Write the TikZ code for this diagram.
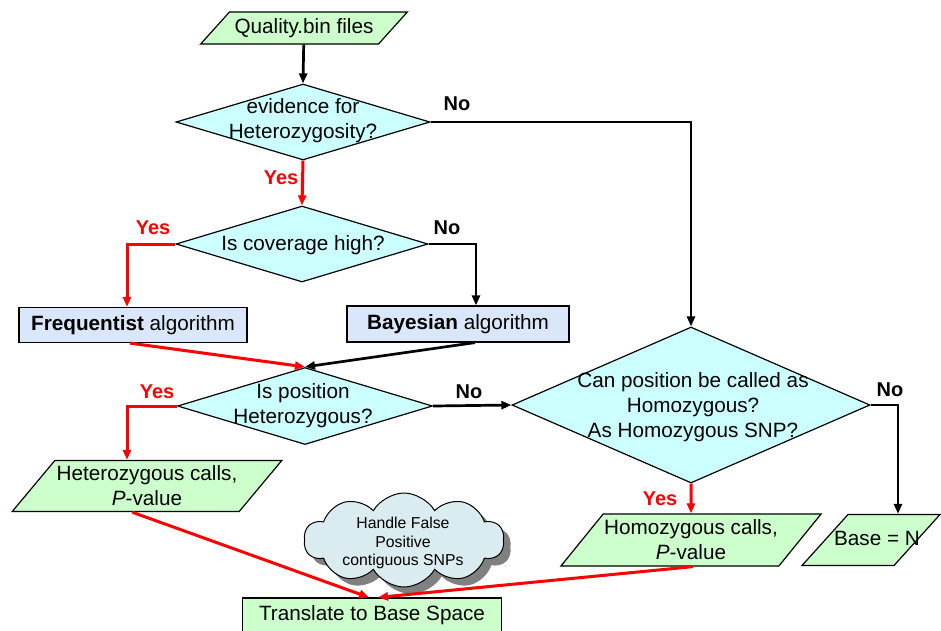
\documentclass[tikz,border=0pt]{standalone}
\usepackage{fontspec}
\setmainfont{Liberation Sans}
\usetikzlibrary{shapes.geometric,shapes.symbols,shadows,arrows.meta}
\definecolor{iogreen}{HTML}{CCFFCC}
\definecolor{decicyan}{HTML}{CCFFFF}
\definecolor{algblue}{HTML}{DAE7FB}
\definecolor{cloudblue}{HTML}{DAECEF}
\tikzset{
  every node/.style={font=\fontsize{20.7}{25}\selectfont},
  io/.style={trapezium, trapezium left angle=45, trapezium right angle=135,
    trapezium stretches, draw, fill=iogreen, line width=1.2pt, inner sep=1pt,
    align=center},
  decision/.style={diamond, draw, fill=decicyan, line width=1.2pt, inner sep=1pt},
  algbox/.style={rectangle, draw, fill=algblue, line width=1.2pt, inner sep=1pt},
  txt/.style={align=center, inner sep=0pt},
  yeslbl/.style={text=red, font=\fontsize{20}{24}\selectfont\bfseries},
  nolbl/.style={font=\fontsize{20}{24}\selectfont\bfseries},
  blk/.style={line width=2.7pt, -{Triangle[length=10pt,width=8pt]}},
  rd/.style={line width=3pt, red, -{Triangle[length=10pt,width=8pt]}}
}
\begin{document}
\begin{tikzpicture}[x=1pt,y=-1pt]
  \useasboundingbox (0,0) rectangle (941,630);
  \node[io, trapezium left angle=38, trapezium right angle=142,
    minimum width=207pt, minimum height=32pt] (quality) at (304,28) {Quality.bin files};
  \node[decision, minimum width=254pt, minimum height=76pt] (evid) at (303,122) {};
  \node[txt] (evidtxt) at (303,121) {evidence for\\Heterozygosity?};
  \node[decision, minimum width=252pt, minimum height=76pt] (cover) at (302,244) {};
  \node[txt] (covertxt) at (303,245) {Is coverage high?};
  \node[algbox, minimum width=228pt, minimum height=35pt] (freq) at (133,325)
    {\textbf{Frequentist} algorithm};
  \node[algbox, minimum width=222pt, minimum height=36pt] (bayes) at (458,324)
    {\textbf{Bayesian} algorithm};
  \node[decision, minimum width=255pt, minimum height=77pt] (ispos) at (305,406) {};
  \node[txt] (isposrtxt) at (303,406) {Is position\\Heterozygous?};
  \node[decision, minimum width=358pt, minimum height=156pt] (canpos) at (691,405) {};
  \node[txt] (canpostxt) at (693,407) {Can position be called as\\Homozygous?\\As Homozygous SNP?};
  \node[io, minimum width=270pt, minimum height=51pt] (hetcalls) at (147,486)
    {Heterozygous calls,\\\textit{P}-value};
  \node[io, minimum width=255pt, minimum height=52pt] (homcalls) at (691,540)
    {Homozygous calls,\\\textit{P}-value};
  \node[io, minimum width=138pt, minimum height=51pt] (basen) at (871,540) {};
  \node[txt] (basentxt) at (877,538) {Base = N};
  \node[cloud, cloud puffs=10, cloud puff arc=120, aspect=2.1, draw, inner sep=1pt,
    fill=cloudblue, line width=1pt, minimum width=200pt, minimum height=94pt,
    drop shadow={shadow xshift=7pt, shadow yshift=-7pt, fill=black!50, opacity=1}]
    (fpsnp) at (404,540) {};
  \node[txt, font=\fontsize{15.8}{18.5}\selectfont] (fpsnptxt) at (403,543)
    {Handle False\\Positive\\contiguous SNPs};
  \node[rectangle, draw, fill=iogreen, line width=1.2pt, minimum width=259pt,
    minimum height=34pt] (translate) at (372,615) {Translate to Base Space};

  \node[nolbl] (no1) at (457,104) {No};
  \node[yeslbl] (yes1) at (281,178) {Yes};
  \node[yeslbl] (yes2) at (153,228) {Yes};
  \node[nolbl] (no2) at (447,228) {No};
  \node[yeslbl] (yes3) at (157,392) {Yes};
  \node[nolbl] (no3) at (469,392) {No};
  \node[nolbl] (no4) at (890,390) {No};
  \node[yeslbl] (yes4) at (660,499) {Yes};

  \draw[blk] (quality) -- (evid.north);
  \draw[blk] (evid.east) -| (canpos.north);
  \draw[rd] (evid.south) -- (cover.north);
  \draw[rd] (cover.west) -| ([xshift=-6pt]freq.north);
  \draw[blk] (cover.east) -| ([xshift=18pt]bayes.north);
  \draw[rd] ([xshift=-3pt]freq.south) -- (ispos.north);
  \draw[blk] ([xshift=17pt]bayes.south) -- (ispos.north);
  \draw[rd] (ispos.west) -| ([xshift=-20pt]hetcalls.north);
  \draw[blk] (ispos.east) -- (canpos.west);
  \draw[blk] (canpos.east) -| ([xshift=27pt]basen.north);
  \draw[rd] (canpos.south) -- (homcalls.north);
  \draw[rd] ([xshift=-15pt]hetcalls.south) -- ([xshift=-3pt]translate.north);
  \draw[rd] ([xshift=2pt]homcalls.south) -- ([xshift=6pt]translate.north);
\end{tikzpicture}
\end{document}
